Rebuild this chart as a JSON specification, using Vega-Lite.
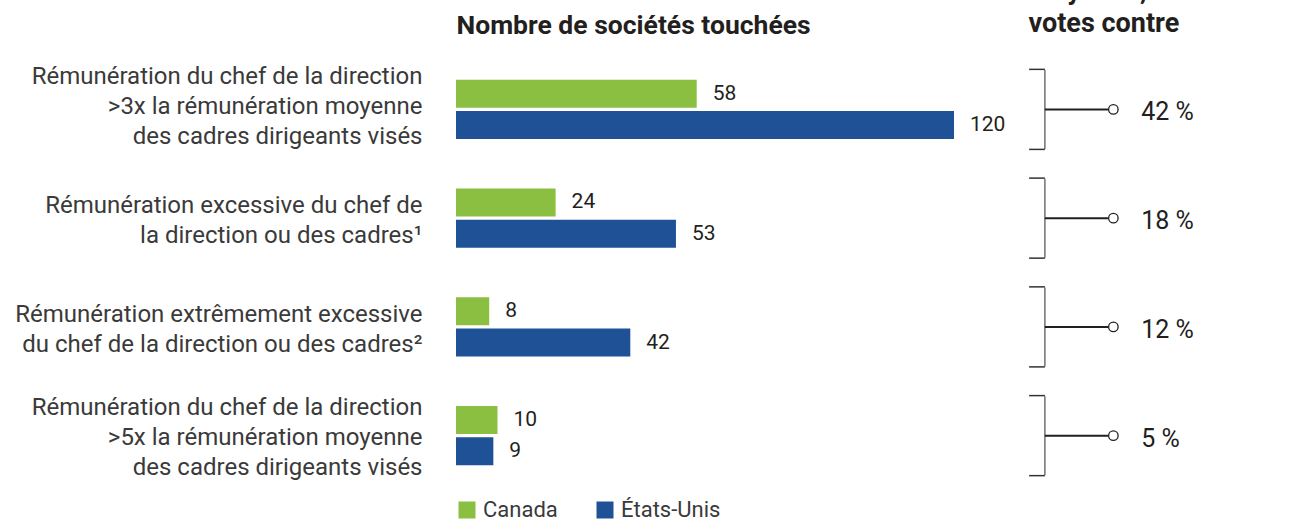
{
  "$schema": "https://vega.github.io/schema/vega-lite/v6.json",
  "autosize": {"type": "none"},
  "padding": {"left": 456, "top": 55, "right": 15, "bottom": 31},
  "width": 830,
  "height": 435,
  "background": "white",
  "config": {
    "view": {"stroke": null},
    "font": "Roboto",
    "text": {"font": "Roboto"}
  },
  "datasets": {
    "bars": [
      {"cat": "Rémunération du chef de la direction|>3x la rémunération moyenne|des cadres dirigeants visés", "series": "Canada", "value": 58},
      {"cat": "Rémunération du chef de la direction|>3x la rémunération moyenne|des cadres dirigeants visés", "series": "États-Unis", "value": 120},
      {"cat": "Rémunération excessive du chef de|la direction ou des cadres¹", "series": "Canada", "value": 24},
      {"cat": "Rémunération excessive du chef de|la direction ou des cadres¹", "series": "États-Unis", "value": 53},
      {"cat": "Rémunération extrêmement excessive|du chef de la direction ou des cadres²", "series": "Canada", "value": 8},
      {"cat": "Rémunération extrêmement excessive|du chef de la direction ou des cadres²", "series": "États-Unis", "value": 42},
      {"cat": "Rémunération du chef de la direction|>5x la rémunération moyenne|des cadres dirigeants visés ", "series": "Canada", "value": 10},
      {"cat": "Rémunération du chef de la direction|>5x la rémunération moyenne|des cadres dirigeants visés ", "series": "États-Unis", "value": 9}
    ],
    "pcts": [
      {"cat": "Rémunération du chef de la direction|>3x la rémunération moyenne|des cadres dirigeants visés", "pct": "42 %"},
      {"cat": "Rémunération excessive du chef de|la direction ou des cadres¹", "pct": "18 %"},
      {"cat": "Rémunération extrêmement excessive|du chef de la direction ou des cadres²", "pct": "12 %"},
      {"cat": "Rémunération du chef de la direction|>5x la rémunération moyenne|des cadres dirigeants visés ", "pct": "5 %"}
    ]
  },
  "encoding": {
    "y": {
      "field": "cat",
      "type": "nominal",
      "scale": {
        "domain": [
          "Rémunération du chef de la direction|>3x la rémunération moyenne|des cadres dirigeants visés",
          "Rémunération excessive du chef de|la direction ou des cadres¹",
          "Rémunération extrêmement excessive|du chef de la direction ou des cadres²",
          "Rémunération du chef de la direction|>5x la rémunération moyenne|des cadres dirigeants visés "
        ],
        "paddingInner": 0.264,
        "paddingOuter": 0.132
      },
      "axis": {
        "title": "Nombre de sociétés touchées",
        "titleFont": "Roboto",
        "titleFontSize": 26.5,
        "titleFontWeight": "bold",
        "titleColor": "#231f20",
        "titleAngle": 0,
        "titleAlign": "left",
        "titleAnchor": "start",
        "titleBaseline": "alphabetic",
        "titleX": 0,
        "titleY": -22,
        "domain": false,
        "ticks": false,
        "labelExpr": "split(datum.label, '|')",
        "labelFont": "Roboto",
        "labelFontSize": 24,
        "labelColor": "#3a3a3a",
        "labelLineHeight": 30,
        "labelPadding": 34,
        "labelLimit": 600,
        "labelAlign": "right",
        "labelBaseline": "middle",
        "labelOffset": {
          "condition": [
            {"test": "indexof(datum.value, '>5x') >= 0", "value": -28},
            {"test": "indexof(datum.value, 'visés') >= 0", "value": -32}
          ],
          "value": -12
        }
      }
    }
  },
  "layer": [
    {
      "data": {"name": "bars"},
      "mark": {"type": "bar"},
      "encoding": {
        "x": {
          "field": "value",
          "type": "quantitative",
          "scale": {"domain": [0, 200], "nice": false},
          "axis": {
            "orient": "top",
            "domain": false,
            "ticks": false,
            "labels": false,
            "grid": false,
            "title": ["Moyenne, % des", "votes contre"],
            "titleFont": "Roboto",
            "titleFontSize": 27,
            "titleFontWeight": "bold",
            "titleColor": "#231f20",
            "titleAlign": "left",
            "titleAnchor": "start",
            "titleBaseline": "alphabetic",
            "titleLineHeight": 33,
            "titleX": 572,
            "titleY": -57
          }
        },
        "yOffset": {
          "field": "series",
          "type": "nominal",
          "scale": {"domain": ["Canada", "États-Unis"], "paddingInner": 0.1, "paddingOuter": 0.33}
        },
        "color": {
          "field": "series",
          "type": "nominal",
          "scale": {"domain": ["Canada", "États-Unis"], "range": ["#8ABF42", "#1F5196"]},
          "legend": {
            "orient": "bottom",
            "direction": "horizontal",
            "title": null,
            "symbolType": "square",
            "symbolSize": 289,
            "symbolStrokeWidth": 0,
            "labelFont": "Roboto",
            "labelFontSize": 22,
            "labelColor": "#3a3a3a",
            "labelOffset": 5,
            "columnPadding": 36,
            "offset": 9
          }
        }
      }
    },
    {
      "data": {"name": "bars"},
      "mark": {"type": "text", "align": "left", "baseline": "middle", "dx": 16, "fontSize": 21, "color": "#231f20"},
      "encoding": {
        "x": {"field": "value", "type": "quantitative"},
        "yOffset": {"field": "series", "type": "nominal"},
        "text": {"field": "value", "type": "quantitative"}
      }
    },
    {
      "data": {"name": "pcts"},
      "mark": {"type": "tick", "size": 79, "thickness": 1.5, "color": "#333333"},
      "encoding": {
        "x": {"datum": 141.9, "type": "quantitative"}
      }
    },
    {
      "data": {"name": "pcts"},
      "mark": {"type": "rule", "strokeWidth": 1.5, "color": "#333333"},
      "encoding": {
        "x": {"datum": 138.1, "type": "quantitative"},
        "x2": {"datum": 141.9},
        "y": {"field": "cat", "type": "nominal", "bandPosition": 0}
      }
    },
    {
      "data": {"name": "pcts"},
      "mark": {"type": "rule", "strokeWidth": 1.5, "color": "#333333"},
      "encoding": {
        "x": {"datum": 138.1, "type": "quantitative"},
        "x2": {"datum": 141.9},
        "y": {"field": "cat", "type": "nominal", "bandPosition": 1}
      }
    },
    {
      "data": {"name": "pcts"},
      "mark": {"type": "rule", "strokeWidth": 2, "color": "#231f20"},
      "encoding": {
        "x": {"datum": 141.9, "type": "quantitative"},
        "x2": {"datum": 157.1},
        "y": {"field": "cat", "type": "nominal", "bandPosition": 0.5}
      }
    },
    {
      "data": {"name": "pcts"},
      "mark": {"type": "point", "shape": "circle", "filled": true, "fill": "white", "stroke": "#231f20", "strokeWidth": 1.3, "size": 90, "opacity": 1},
      "encoding": {
        "x": {"datum": 158.4, "type": "quantitative"}
      }
    },
    {
      "data": {"name": "pcts"},
      "mark": {"type": "text", "align": "left", "baseline": "middle", "fontSize": 25, "color": "#231f20", "dy": 3},
      "encoding": {
        "x": {"datum": 165.1, "type": "quantitative"},
        "text": {"field": "pct", "type": "nominal"}
      }
    }
  ]
}
